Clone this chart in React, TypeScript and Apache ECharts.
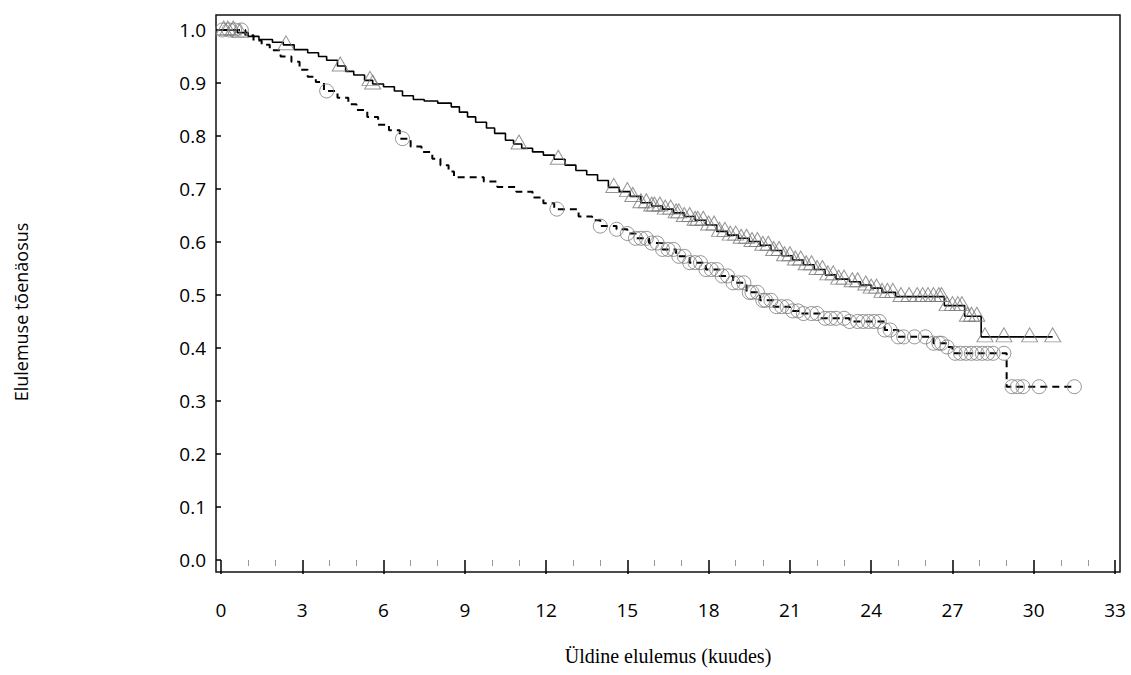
import React, { useEffect, useRef } from "react";
import * as echarts from "echarts";

// Group with solid line (triangles): event times (months) and survival after each event
const solidTimes = [0, 0.6, 1.0, 1.4, 1.9, 2.3, 2.7, 3.2, 3.6, 3.9, 4.3, 4.6, 4.9, 5.3, 5.6, 6.0, 6.4, 6.7, 7.1, 7.5, 8.0, 8.5, 8.8, 9.1, 9.4, 9.8, 10.1, 10.5, 10.8, 11.1, 11.5, 11.9, 12.3, 12.7, 13.1, 13.5, 13.9, 14.3, 14.7, 15.1, 15.5, 15.9, 16.3, 16.7, 17.1, 17.5, 17.9, 18.3, 18.7, 19.1, 19.5, 19.9, 20.3, 20.7, 21.1, 21.5, 21.9, 22.3, 22.7, 23.2, 23.6, 24.0, 24.4, 24.9, 26.7, 27.45, 28.06];
const solidSurv = [1.0, 0.995, 0.988, 0.982, 0.977, 0.972, 0.963, 0.957, 0.95, 0.943, 0.932, 0.922, 0.915, 0.905, 0.898, 0.893, 0.885, 0.876, 0.869, 0.866, 0.862, 0.855, 0.845, 0.836, 0.826, 0.815, 0.805, 0.792, 0.785, 0.777, 0.77, 0.764, 0.756, 0.745, 0.735, 0.727, 0.716, 0.703, 0.695, 0.686, 0.674, 0.668, 0.662, 0.655, 0.648, 0.641, 0.632, 0.62, 0.613, 0.607, 0.601, 0.594, 0.584, 0.574, 0.566, 0.557, 0.548, 0.538, 0.53, 0.525, 0.519, 0.513, 0.505, 0.497, 0.48, 0.46, 0.421];
const solidCensor = [0.1, 0.25, 0.45, 0.7, 2.4, 4.4, 5.5, 5.6, 11.0, 12.45, 14.5, 15.0, 15.2, 15.5, 15.7, 15.9, 16.0, 16.2, 16.4, 16.6, 16.8, 16.9, 17.1, 17.3, 17.5, 17.6, 17.8, 18.0, 18.2, 18.4, 18.6, 18.8, 19.0, 19.2, 19.4, 19.6, 19.8, 20.0, 20.2, 20.4, 20.6, 20.8, 21.0, 21.2, 21.4, 21.6, 21.8, 22.0, 22.2, 22.4, 22.6, 22.8, 23.0, 23.3, 23.5, 23.8, 24.0, 24.2, 24.4, 24.6, 24.8, 25.1, 25.4, 25.7, 25.9, 26.1, 26.3, 26.5, 26.6, 26.8, 27.0, 27.2, 27.35, 27.55, 27.7, 27.9, 28.2, 28.9, 29.85, 30.7];

// Group with dashed line (circles)
const dashTimes = [0, 0.9, 1.2, 1.5, 1.8, 2.2, 2.6, 2.9, 3.2, 3.5, 3.8, 4.3, 4.7, 5.0, 5.4, 5.8, 6.2, 6.6, 7.0, 7.4, 7.8, 8.1, 8.4, 8.6, 9.7, 10.2, 10.9, 11.5, 11.9, 12.3, 13.2, 13.7, 14.0, 14.6, 15.0, 15.3, 15.8, 16.3, 16.8, 17.3, 17.9, 18.4, 18.9, 19.4, 19.9, 20.4, 21.0, 21.4, 22.1, 23.2, 24.5, 25.0, 26.3, 26.8, 27.0, 29.0];
const dashSurv = [1.0, 0.99, 0.98, 0.972, 0.962, 0.95, 0.94, 0.925, 0.912, 0.902, 0.885, 0.872, 0.86, 0.849, 0.836, 0.821, 0.811, 0.795, 0.78, 0.77, 0.757, 0.745, 0.733, 0.722, 0.714, 0.704, 0.695, 0.684, 0.673, 0.662, 0.648, 0.641, 0.63, 0.624, 0.616, 0.607, 0.598, 0.586, 0.573, 0.561, 0.548, 0.536, 0.523, 0.505, 0.49, 0.478, 0.47, 0.465, 0.456, 0.45, 0.434, 0.421, 0.409, 0.402, 0.39, 0.327];
const dashCensor = [0.05, 0.3, 0.5, 0.75, 3.9, 6.7, 12.4, 14.0, 14.6, 15.0, 15.3, 15.5, 15.7, 15.9, 16.1, 16.3, 16.5, 16.7, 16.9, 17.1, 17.3, 17.5, 17.7, 17.9, 18.1, 18.3, 18.5, 18.7, 18.9, 19.1, 19.3, 19.5, 19.6, 19.8, 20.0, 20.1, 20.3, 20.5, 20.7, 20.9, 21.1, 21.3, 21.5, 21.8, 22.0, 22.3, 22.5, 22.7, 23.0, 23.2, 23.5, 23.7, 23.9, 24.1, 24.3, 24.5, 24.7, 25.0, 25.2, 25.6, 26.0, 26.3, 26.5, 26.6, 26.8, 27.1, 27.3, 27.5, 27.7, 27.9, 28.1, 28.3, 28.5, 28.9, 29.2, 29.4, 29.6, 30.2, 31.5];

const xTicks = [0, 3, 6, 9, 12, 15, 18, 21, 24, 27, 30, 33];
const xTitle = "Üldine elulemus (kuudes)";
const yTitle = "Elulemuse tõenäosus";

function survAt(times: number[], surv: number[], t: number): number {
  let v = surv[0];
  for (let i = 0; i < times.length; i++) {
    if (times[i] <= t) v = surv[i];
  }
  return v;
}

function stepData(times: number[], surv: number[], end: number) {
  const d = times.map((t, i) => [t, surv[i]]);
  d.push([end, surv[surv.length - 1]]);
  return d;
}

export default function App() {
  const ref = useRef<HTMLDivElement>(null);
  useEffect(() => {
    if (!ref.current) return;
    const chart = echarts.init(ref.current, undefined, { renderer: "svg" });
    const sansFont = "'Open Sans', 'Noto Sans', sans-serif";
    const solidEnd = solidCensor[solidCensor.length - 1];
    const dashEnd = dashCensor[dashCensor.length - 1];
    chart.setOption({
      animation: false,
      backgroundColor: "#fff",
      grid: [
        { left: 221, top: 30, width: 894, height: 530, containLabel: false },
        {
          left: 216, top: 15, width: 904, height: 557, show: true,
          borderColor: "#111", borderWidth: 1.5, backgroundColor: "transparent",
        },
      ],
      graphic: [
        {
          type: "text", x: 21, y: 312, rotation: Math.PI / 2,
          style: {
            text: yTitle, fontFamily: sansFont, fontSize: 18, fill: "#000",
            align: "center", verticalAlign: "middle",
          },
        },
      ],
      xAxis: [
        {
          type: "value", gridIndex: 0, min: 0, max: 33, interval: 3, offset: 12,
          axisLine: { show: false },
          axisTick: { show: true, length: 14, lineStyle: { color: "#000", width: 1.5 } },
          minorTick: { show: true, splitNumber: 3, length: 6, lineStyle: { color: "#999", width: 1 } },
          splitLine: { show: false },
          axisLabel: {
            margin: 28, fontSize: 19, color: "#000", fontFamily: sansFont,
            formatter: (v: number) => (xTicks.indexOf(v) >= 0 ? String(v) : ""),
          },
          name: xTitle, nameLocation: "middle", nameGap: 74,
          nameTextStyle: { fontFamily: "'Liberation Serif', 'Times New Roman', serif", fontSize: 20, color: "#000" },
        },
        { type: "value", gridIndex: 1, show: false, min: 0, max: 1 },
      ],
      yAxis: [
        {
          type: "value", gridIndex: 0, min: 0, max: 1, interval: 0.1, offset: 5,
          axisLine: { show: false },
          axisTick: { show: true, length: 5, lineStyle: { color: "#000", width: 1.5 } },
          splitLine: { show: false },
          axisLabel: {
            margin: 10, fontSize: 19, color: "#000", fontFamily: sansFont,
            formatter: (v: number) => v.toFixed(1),
          },
        },
        { type: "value", gridIndex: 1, show: false, min: 0, max: 1 },
      ],
      series: [
        {
          type: "line", xAxisIndex: 0, yAxisIndex: 0, step: "end", showSymbol: false,
          data: stepData(dashTimes, dashSurv, dashEnd),
          lineStyle: { color: "#000", width: 2, type: [7, 5] }, z: 3,
        },
        {
          type: "line", xAxisIndex: 0, yAxisIndex: 0, step: "end", showSymbol: false,
          data: stepData(solidTimes, solidSurv, solidEnd),
          lineStyle: { color: "#000", width: 1.6, type: "solid" }, z: 3,
        },
        {
          type: "scatter", xAxisIndex: 0, yAxisIndex: 0, symbol: "circle", symbolSize: 14,
          data: dashCensor.map((t) => [t, survAt(dashTimes, dashSurv, t)]),
          itemStyle: { color: "rgba(0,0,0,0)", borderColor: "#7a7a7a", borderWidth: 1 }, z: 4,
        },
        {
          type: "scatter", xAxisIndex: 0, yAxisIndex: 0, symbol: "triangle", symbolSize: [16, 14],
          symbolOffset: [0, -2],
          data: solidCensor.map((t) => [t, survAt(solidTimes, solidSurv, t)]),
          itemStyle: { color: "rgba(0,0,0,0)", borderColor: "#7a7a7a", borderWidth: 1 }, z: 4,
        },
      ],
    });
    return () => chart.dispose();
  }, []);
  return <div ref={ref} style={{ width: 1131, height: 675, position: "absolute", left: 0, top: 0 }} />;
}
